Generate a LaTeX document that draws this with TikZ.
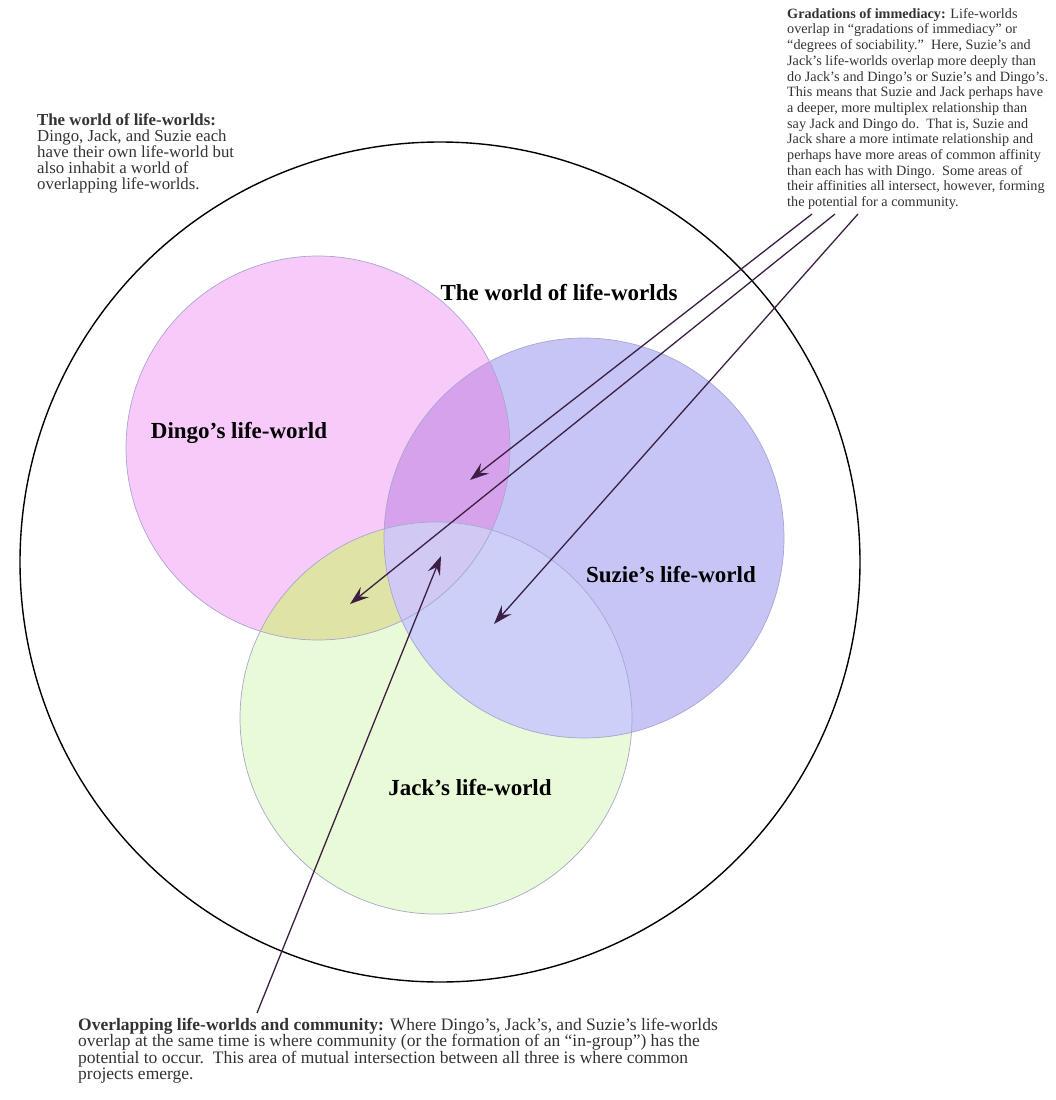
\documentclass[tikz,border=0pt]{standalone}
\usepackage{fontspec}
\setmainfont{Liberation Serif}
\usetikzlibrary{arrows.meta,positioning}
\definecolor{dingopink}{RGB}{247,202,250}
\definecolor{suzieblue}{RGB}{198,197,246}
\definecolor{jackgreen}{RGB}{233,250,216}
\definecolor{dsviolet}{RGB}{214,162,236}
\definecolor{djolive}{RGB}{224,227,166}
\definecolor{jsblue}{RGB}{204,207,247}
\definecolor{alllilac}{RGB}{210,200,244}
\definecolor{rimgray}{RGB}{168,166,208}
\definecolor{pointerpurple}{RGB}{60,32,68}
\newcommand{\lead}[1]{\textbf{#1}}

\begin{document}
\begin{tikzpicture}[
    x=1pt, y=-1pt,
    world/.style={draw=black, line width=1.4pt},
    rim/.style={draw=rimgray, line width=0.7pt},
    areaname/.style={font=\fontsize{23}{25}\selectfont\bfseries},
    note/.style={anchor=north west, align=left, inner sep=0pt, text=black!80},
    pointer/.style={draw=pointerpurple, line width=1.3pt,
      -{Stealth[length=19pt, width=13pt, inset=7pt]}}
  ]
    \useasboundingbox (0,0) rectangle (1055,1100);

    \coordinate (worldC) at (440,562);
    \coordinate (dingoC) at (318,448);
    \coordinate (suzieC) at (584,538);
    \coordinate (jackC)  at (436,718);

    \draw[world] (worldC) circle (420);

    \fill[dingopink] (dingoC) circle (192);
    \fill[jackgreen] (jackC) circle (196);
    \fill[suzieblue] (suzieC) circle (200);
    \begin{scope}
      \clip (dingoC) circle (192);
      \fill[dsviolet] (suzieC) circle (200);
      \fill[djolive] (jackC) circle (196);
    \end{scope}
    \begin{scope}
      \clip (suzieC) circle (200);
      \fill[jsblue] (jackC) circle (196);
    \end{scope}
    \begin{scope}
      \clip (dingoC) circle (192);
      \clip (suzieC) circle (200);
      \fill[alllilac] (jackC) circle (196);
    \end{scope}
    \draw[rim] (dingoC) circle (192);
    \draw[rim] (jackC) circle (196);
    \draw[rim] (suzieC) circle (200);

    \node[areaname] (worldname) at (559,293) {The world of life-worlds};
    \node[areaname] (dingoname) at (239,433) {Dingo's life-world};
    \node[areaname] (suziename) at (671,575) {Suzie's life-world};
    \node[areaname] (jackname)  at (470,788) {Jack's life-world};

    \node[note, font=\fontsize{16.8}{16}\selectfont] (worldnote) at (37,113)
      {\lead{The world of life-worlds:}\\
       Dingo, Jack, and Suzie each\\
       have their own life-world but\\
       also inhabit a world of\\
       overlapping life-worlds.};

    \node[note, font=\fontsize{14.2}{15.7}\selectfont] (gradnote) at (787,8)
      {\lead{Gradations of immediacy:} Life-worlds\\
       overlap in ``gradations of immediacy'' or\\
       ``degrees of sociability.''\ \ Here, Suzie's and\\
       Jack's life-worlds overlap more deeply than\\
       do Jack's and Dingo's or Suzie's and Dingo's.\\
       This means that Suzie and Jack perhaps have\\
       a deeper, more multiplex relationship than\\
       say Jack and Dingo do.\ \ That is, Suzie and\\
       Jack share a more intimate relationship and\\
       perhaps have more areas of common affinity\\
       than each has with Dingo.\ \ Some areas of\\
       their affinities all intersect, however, forming\\
       the potential for a community.};

    \node[note, font=\fontsize{17.5}{16.3}\selectfont] (commnote) at (78,1018)
      {\lead{Overlapping life-worlds and community:} Where Dingo's, Jack's, and Suzie's life-worlds\\
       overlap at the same time is where community (or the formation of an ``in-group'') has the\\
       potential to occur.\ \ This area of mutual intersection between all three is where common\\
       projects emerge.};

    \coordinate (gradA) at (812,214);
    \coordinate (gradB) at (835,214);
    \coordinate (gradC) at (858,214);
    \coordinate (commA) at (257,1013);
    \coordinate (dsTip) at (470,480);
    \coordinate (djTip) at (350,604);
    \coordinate (jsTip) at (494,624);
    \coordinate (allTip) at (441,556);

    \draw[pointer] (gradA) -- (dsTip);
    \draw[pointer] (gradB) -- (djTip);
    \draw[pointer] (gradC) -- (jsTip);
    \draw[pointer] (commA) -- (allTip);
  \end{tikzpicture}
\end{document}
